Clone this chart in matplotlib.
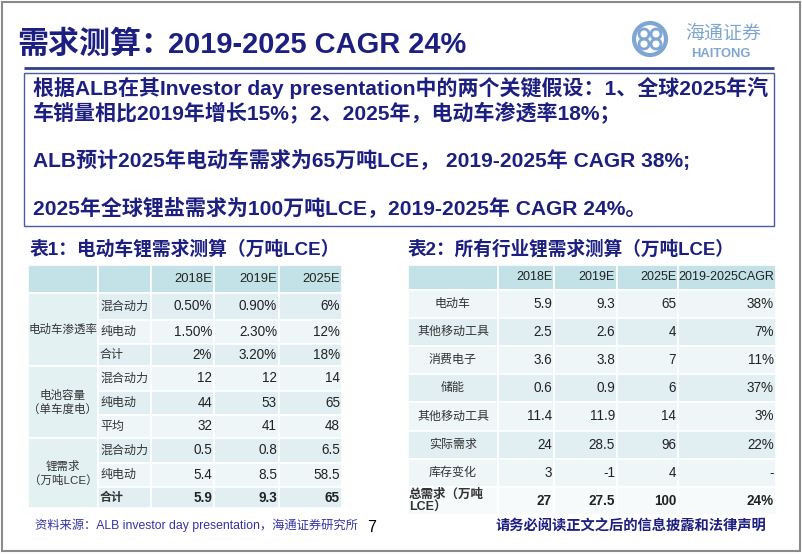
import matplotlib
matplotlib.use("Agg")
import matplotlib.pyplot as plt
from matplotlib.patches import Rectangle, Circle

# ---------------- data ----------------
title_cn = "需求测算："
title_en = "2019-2025 CAGR 24%"
box_lines = [
    "根据ALB在其Investor day presentation中的两个关键假设：1、全球2025年汽",
    "车销量相比2019年增长15%；2、2025年，电动车渗透率18%；",
    "ALB预计2025年电动车需求为65万吨LCE， 2019-2025年 CAGR 38%;",
    "2025年全球锂盐需求为100万吨LCE，2019-2025年 CAGR 24%。",
]

t1_title = "表1：电动车锂需求测算（万吨LCE）"
t1_header = ["", "", "2018E", "2019E", "2025E"]
t1_groups = ["电动车渗透率", "电池容量\n（单车度电）", "锂需求\n（万吨LCE）"]
t1_group_size = [3, 3, 3]
t1_items = ["混合动力", "纯电动", "合计", "混合动力", "纯电动", "平均", "混合动力", "纯电动", "合计"]
t1_2018 = ["0.50%", "1.50%", "2%", "12", "44", "32", "0.5", "5.4", "5.9"]
t1_2019 = ["0.90%", "2.30%", "3.20%", "12", "53", "41", "0.8", "8.5", "9.3"]
t1_2025 = ["6%", "12%", "18%", "14", "65", "48", "6.5", "58.5", "65"]

t2_title = "表2：所有行业锂需求测算（万吨LCE）"
t2_header = ["", "2018E", "2019E", "2025E", "2019-2025CAGR"]
t2_rows = ["电动车", "其他移动工具", "消费电子", "储能", "其他移动工具", "实际需求", "库存变化", "总需求（万吨\nLCE）"]
t2_2018 = ["5.9", "2.5", "3.6", "0.6", "11.4", "24", "3", "27"]
t2_2019 = ["9.3", "2.6", "3.8", "0.9", "11.9", "28.5", "-1", "27.5"]
t2_2025 = ["65", "4", "7", "6", "14", "96", "4", "100"]
t2_cagr = ["38%", "7%", "11%", "37%", "3%", "22%", "-", "24%"]

source_text = "资料来源：ALB investor day presentation，海通证券研究所"
page_no = "7"
disclaimer = "请务必阅读正文之后的信息披露和法律声明"

# ---------------- styling ----------------
W, H = 802, 554
NAVY = "#1d1f80"
FONT = ["Liberation Sans", "Noto Sans CJK SC", "DejaVu Sans"]
HDR = "#c3e2e7"
DARK = "#e1eff2"
LIGHT = "#eef6f8"
GRP = "#e4f1f3"

def px(p):  # pixel size -> points
    return p * 0.72

fig = plt.figure(figsize=(W / 100, H / 100), dpi=100)
ax = fig.add_axes([0, 0, 1, 1])
ax.set_xlim(0, W)
ax.set_ylim(H, 0)
ax.axis("off")

# slide border
ax.add_patch(Rectangle((1.5, 1.5), W - 3.5, H - 4.5, fill=False, ec="#8a8a8a", lw=1.5))

# title
ax.text(17, 45, title_cn, fontsize=px(31), color=NAVY, fontweight="bold",
        family=FONT, va="center", ha="left")
ax.text(168, 45, title_en, fontsize=px(29), color=NAVY, fontweight="bold",
        family=FONT, va="center", ha="left")
ax.plot([24, 774], [68, 68], color="#2f3f92", lw=2.0, solid_capstyle="butt")

# logo
LC = "#7fa6d2"
ax.add_patch(Circle((650, 39), 16, fill=False, ec=LC, lw=3))
for dx, dy in [(-6, -5), (6, -5), (-6, 5), (6, 5)]:
    ax.add_patch(Circle((650 + dx, 39 + dy), 5, fill=False, ec=LC, lw=2))
ax.text(723, 34, "海通证券", fontsize=px(19), color=LC, family=FONT,
        ha="center", va="center", style="italic")
ax.text(721, 54, "HAITONG", fontsize=px(13), color=LC, family=FONT,
        fontweight="bold", ha="center", va="center")

# text box
ax.add_patch(Rectangle((24, 73), 750, 153, fill=False, ec="#4b5aa6", lw=1.0))
for ytxt, line in zip([88, 113, 160, 209], box_lines):
    ax.text(33, ytxt, line, fontsize=px(21), color=NAVY, fontweight="bold",
            family=FONT, va="center", ha="left")

def cell(x0, x1, y0, y1, color):
    ax.add_patch(Rectangle((x0, y0), x1 - x0, y1 - y0, fc=color, ec="white", lw=1.2))

# ---------------- table 1 ----------------
ax.text(30, 249, t1_title, fontsize=px(18.8), color=NAVY, fontweight="bold",
        family=FONT, va="center", ha="left")
c1 = [28, 98, 151, 214, 279, 342]
r1 = [265, 293, 320, 344, 366, 391, 415, 438, 463, 487, 508]
for i in range(5):
    cell(c1[i], c1[i + 1], r1[0], r1[1], HDR)
for i, h in enumerate(t1_header):
    if h:
        ax.text(c1[i + 1] - 2, (r1[0] + r1[1]) / 2, h, fontsize=px(13), family=FONT,
                color="#222222", ha="right", va="center")
start = 1
for g, n in zip(t1_groups, t1_group_size):
    y0, y1 = r1[start], r1[start + n]
    cell(c1[0], c1[1], y0, y1, GRP)
    ax.text((c1[0] + c1[1]) / 2, (y0 + y1) / 2, g, fontsize=px(11.5), family=FONT,
            color="#333333", ha="center", va="center", linespacing=1.3)
    start += n
cols1 = [t1_2018, t1_2019, t1_2025]
for k, item in enumerate(t1_items):
    y0, y1 = r1[k + 1], r1[k + 2]
    col = DARK if k % 2 == 0 else LIGHT
    bold = "bold" if k == len(t1_items) - 1 else "normal"
    for i in range(1, 5):
        cell(c1[i], c1[i + 1], y0, y1, col)
    yc = (y0 + y1) / 2
    ax.text(c1[1] + 2, yc, item, fontsize=px(12), family=FONT, color="#333333",
            ha="left", va="center", fontweight=bold)
    for j, vals in enumerate(cols1):
        ax.text(c1[j + 3] - 2, yc, vals[k], fontsize=px(13.5), family=FONT,
                color="#222222", ha="right", va="center", fontweight=bold)

# ---------------- table 2 ----------------
ax.text(408, 249, t2_title, fontsize=px(18.7), color=NAVY, fontweight="bold",
        family=FONT, va="center", ha="left")
c2 = [408, 498, 554, 617, 678, 776]
r2 = [265, 290, 318, 346, 374, 402, 431, 459, 487, 515]
for i in range(5):
    cell(c2[i], c2[i + 1], r2[0], r2[1], HDR)
for i, h in enumerate(t2_header):
    if h:
        ax.text(c2[i + 1] - 2, (r2[0] + r2[1]) / 2, h, fontsize=px(12.5), family=FONT,
                color="#222222", ha="right", va="center")
cols2 = [t2_2018, t2_2019, t2_2025, t2_cagr]
for k, name in enumerate(t2_rows):
    y0, y1 = r2[k + 1], r2[k + 2]
    last = k == len(t2_rows) - 1
    col = "#f6fafb" if last else (LIGHT if k % 2 == 0 else DARK)
    bold = "bold" if last else "normal"
    for i in range(5):
        cell(c2[i], c2[i + 1], y0, y1, col)
    yc = (y0 + y1) / 2
    if last:
        ax.text(c2[0] + 1, yc, name, fontsize=px(12.5), family=FONT, color="#333333",
                ha="left", va="center", fontweight=bold, linespacing=1.1)
    else:
        ax.text((c2[0] + c2[1]) / 2, yc, name, fontsize=px(12), family=FONT,
                color="#333333", ha="center", va="center")
    for j, vals in enumerate(cols2):
        ax.text(c2[j + 2] - 2, yc, vals[k], fontsize=px(13.5), family=FONT,
                color="#222222", ha="right", va="center", fontweight=bold)

# ---------------- footer ----------------
ax.text(35, 525, source_text, fontsize=px(12.3), family=FONT, color="#3434a4",
        ha="left", va="center")
ax.text(372, 527, page_no, fontsize=px(16), family=FONT, color="black",
        ha="center", va="center")
ax.text(495, 526, disclaimer, fontsize=px(14.3), family=FONT, color=NAVY,
        fontweight="bold", ha="left", va="center")

fig.savefig("out.png", dpi=100)
